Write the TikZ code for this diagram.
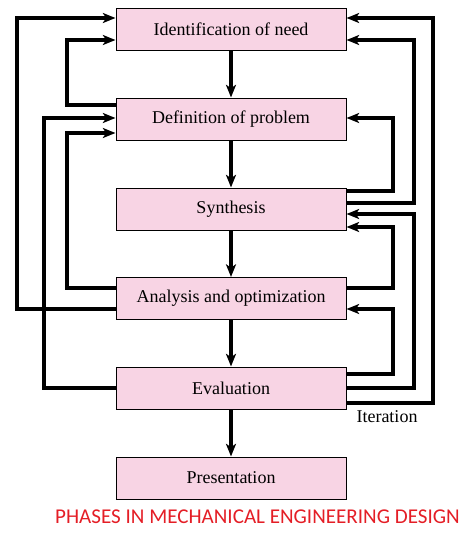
\documentclass[tikz,border=0pt]{standalone}
\usepackage{fontspec}
\setmainfont{Liberation Serif}
\newfontfamily\capfont{Carlito}
\usetikzlibrary{arrows.meta}
\definecolor{boxpink}{RGB}{248,212,228}
\definecolor{capred}{RGB}{228,30,38}
\tikzset{every picture/.style={line width=0.75pt}}
\tikzset{
  phase/.style={draw, fill=boxpink, minimum width=172.5pt, minimum height=31.5pt, inner sep=0pt, font=\fontsize{13.5}{16}\selectfont},
  flow/.style={line width=2.4pt, -{Stealth[length=9.5pt,width=7.5pt,inset=2.5pt]}}
}
\begin{document}
\begin{tikzpicture}[x=0.75pt,y=0.75pt,yscale=-1,xscale=1]
\useasboundingbox (0,0) rectangle (469,536);

%Shape: Phase boxes
\node [phase] (iden)  at (231,29)  {Identification of need};
\node [phase] (defn)  at (231,119) {Definition of problem};
\node [phase] (synth) at (231,209) {Synthesis};
\node [phase] (anal)  at (231,298.5) {Analysis and optimization};
\node [phase] (eval)  at (231,388) {Evaluation};
\node [phase] (pres)  at (231,478) {Presentation};

%Straight Lines: main flow
\draw [flow] (iden) -- (defn);
\draw [flow] (defn) -- (synth);
\draw [flow] (synth) -- (anal);
\draw [flow] (anal) -- (eval);
\draw [flow] (eval) -- (pres);

%Straight Lines: left loops
\draw [flow] (anal.west |- 0,309) -- (17,309) |- (iden.west |- 0,18);
\draw [flow] (defn.west |- 0,105) -- (67,105) |- (iden.west |- 0,40);
\draw [flow] (eval.west |- 0,388) -- (44,388) |- (defn.west |- 0,118);
\draw [flow] (anal.west |- 0,288) -- (67,288) |- (defn.west |- 0,133);

%Straight Lines: right loops
\draw [flow] (eval.east |- 0,403) -- (433,403) |- (iden.east |- 0,18);
\draw [flow] (synth.east |- 0,203) -- (414,203) |- (iden.east |- 0,40);
\draw [flow] (synth.east |- 0,191) -- (393,191) |- (defn.east |- 0,118);
\draw [flow] (eval.east |- 0,388) -- (414,388) |- (synth.east |- 0,214);
\draw [flow] (anal.east |- 0,288) -- (393,288) |- (synth.east |- 0,227);
\draw [flow] (eval.east |- 0,374) -- (393,374) |- (anal.east |- 0,309);

% Text Node
\node [inner sep=0.75pt, font=\fontsize{13.5}{16}\selectfont] (iter) at (387,417) {Iteration};
% Text Node
\node [inner sep=0.75pt, text=capred, font=\capfont\fontsize{15.8}{18}\selectfont] (cap) at (257.5,517) {PHASES IN MECHANICAL ENGINEERING DESIGN};

\end{tikzpicture}
\end{document}
